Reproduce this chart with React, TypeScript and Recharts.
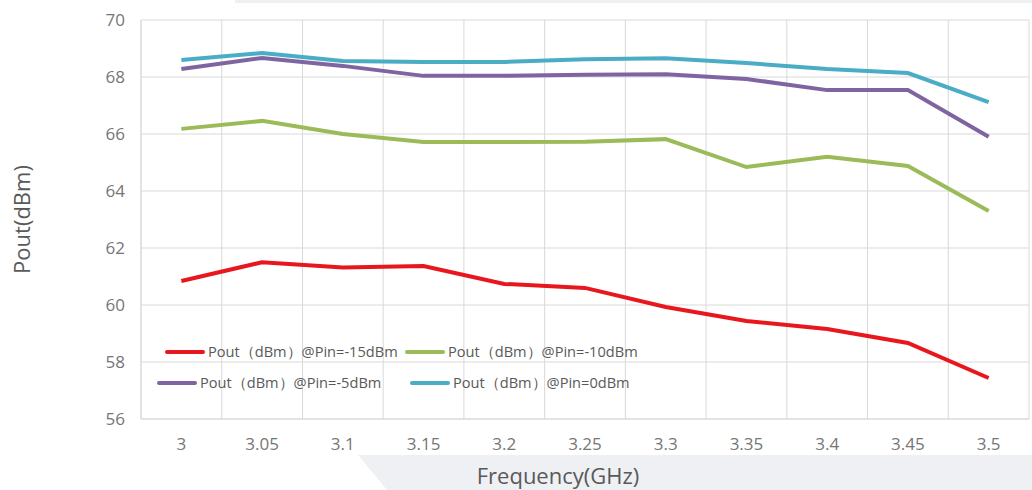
import { CartesianGrid, Line, LineChart, XAxis, YAxis } from 'recharts'

const freqs = ['3', '3.05', '3.1', '3.15', '3.2', '3.25', '3.3', '3.35', '3.4', '3.45', '3.5']
const pin15 = [60.84, 61.5, 61.32, 61.37, 60.74, 60.6, 59.93, 59.44, 59.16, 58.67, 57.44]
const pin10 = [66.18, 66.46, 66.0, 65.72, 65.72, 65.73, 65.82, 64.84, 65.2, 64.88, 63.3]
const pin5 = [68.28, 68.67, 68.39, 68.04, 68.04, 68.08, 68.1, 67.93, 67.54, 67.54, 65.9]
const pin0 = [68.6, 68.84, 68.56, 68.53, 68.53, 68.62, 68.66, 68.49, 68.28, 68.14, 67.12]
const yTicks = [56, 58, 60, 62, 64, 66, 68, 70]

const series = [
  { key: 'p15', name: 'Pout（dBm）@Pin=-15dBm', color: '#e8171e' },
  { key: 'p10', name: 'Pout（dBm）@Pin=-10dBm', color: '#9bbb59' },
  { key: 'p5', name: 'Pout（dBm）@Pin=-5dBm', color: '#8064a2' },
  { key: 'p0', name: 'Pout（dBm）@Pin=0dBm', color: '#4bacc6' },
]

const data = freqs.map((f, i) => ({ f, p15: pin15[i], p10: pin10[i], p5: pin5[i], p0: pin0[i] }))

const font = '"Open Sans", "Noto Sans", sans-serif'

function LegendBox() {
  const item = (s: (typeof series)[number], w: number) => (
    <div key={s.key} style={{ display: 'flex', alignItems: 'center', width: w }}>
      <span style={{ display: 'inline-block', width: 40, height: 4, background: s.color, borderRadius: 2, marginRight: 3 }} />
      <span>{s.name}</span>
    </div>
  )
  return (
    <div style={{ position: 'absolute', left: 157, top: 336, fontFamily: font, fontSize: 14.6, color: '#595959', lineHeight: '31px', whiteSpace: 'nowrap' }}>
      <div style={{ display: 'flex', paddingLeft: 8 }}>
        {item(series[0], 240)}
        {item(series[1], 300)}
      </div>
      <div style={{ display: 'flex' }}>
        {item(series[2], 253)}
        {item(series[3], 300)}
      </div>
    </div>
  )
}

export default function App() {
  return (
    <div style={{ position: 'absolute', left: 0, top: 0, width: 1032, height: 490, background: '#fff', overflow: 'hidden' }}>
      <svg width={1032} height={490} style={{ position: 'absolute', left: 0, top: 0 }}>
        <rect x={235} y={0} width={797} height={3} fill="#eff0f4" />
        <polygon points="358,455 1032,455 1032,490 387,490" fill="#eff0f4" />
      </svg>
      <div style={{ position: 'absolute', left: 0, top: 0 }}>
        <LineChart width={1032} height={490} data={data} margin={{ top: 20, right: 3, left: 0, bottom: 0 }}>
          <CartesianGrid
            stroke="#d9d9d9"
            strokeWidth={1}
            verticalCoordinatesGenerator={({ offset }: any) =>
              freqs.map((_, i) => offset.left + (i * offset.width) / freqs.length).concat(offset.left + offset.width)
            }
          />
          <XAxis
            dataKey="f"
            scale="band"
            height={71}
            tickLine={false}
            axisLine={{ stroke: '#d9d9d9' }}
            tickMargin={13}
            tick={{ fill: '#767676', fontSize: 17, fontFamily: font }}
            label={{ value: 'Frequency(GHz)', position: 'insideBottom', offset: 6, dx: -27, fill: '#595959', fontSize: 22, fontFamily: font }}
          />
          <YAxis
            width={141}
            domain={[56, 70]}
            ticks={yTicks}
            tickLine={false}
            axisLine={{ stroke: '#d9d9d9' }}
            tickMargin={10}
            tick={{ fill: '#767676', fontSize: 17, fontFamily: font }}
            label={{ value: 'Pout(dBm)', angle: -90, position: 'insideLeft', offset: 22, fill: '#595959', fontSize: 22, fontFamily: font, style: { textAnchor: 'middle' } }}
          />
          {series.map((s) => (
            <Line
              key={s.key}
              type="linear"
              dataKey={s.key}
              name={s.name}
              stroke={s.color}
              strokeWidth={4}
              dot={false}
              activeDot={false}
              isAnimationActive={false}
            />
          ))}
        </LineChart>
      </div>
      <LegendBox />
    </div>
  )
}
